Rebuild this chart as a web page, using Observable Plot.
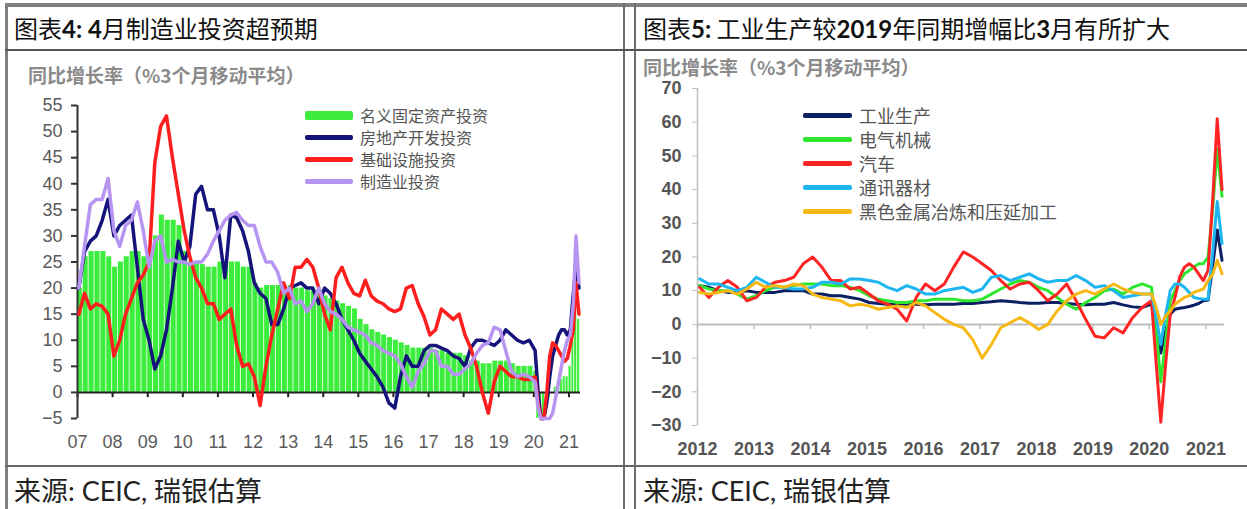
<!DOCTYPE html>
<html><head><meta charset="utf-8">
<script src="https://cdn.jsdelivr.net/npm/d3@7"></script>
<script src="https://cdn.jsdelivr.net/npm/@observablehq/plot@0.6"></script>
<style>
body{margin:0;background:#fff;}
#page{position:relative;width:1247px;height:509px;overflow:hidden;font-family:"Noto Sans CJK SC",sans-serif;background:#fff;}
.ln{position:absolute;background:#6e6e6e;}
.title{position:absolute;font-size:24px;line-height:28px;color:#111;white-space:nowrap;}
.title b{font-family:Lato,"Liberation Sans",sans-serif;font-weight:700;}
.src{position:absolute;font-size:27px;line-height:30px;color:#222;white-space:nowrap;}
.src .lat{font-family:Lato,"Liberation Sans",sans-serif;}
.ylab{position:absolute;font-size:19px;line-height:22px;color:#8a8a8a;font-weight:700;white-space:nowrap;}
.legend{position:absolute;color:#555;}
.legend .row{display:flex;align-items:center;white-space:nowrap;overflow:visible;}
.legend .sw{display:inline-block;margin-right:7px;flex:none;}
.chart{position:absolute;}
</style></head>
<body>
<div id="page">
  <div class="ln" style="left:5px;top:3px;width:1242px;height:4px;background:#808080"></div>
  <div class="ln" style="left:5px;top:3px;width:3px;height:506px;background:#808080"></div>
  <div class="ln" style="left:623px;top:3px;width:2px;height:506px"></div>
  <div class="ln" style="left:634px;top:3px;width:2px;height:506px"></div>
  <div class="ln" style="left:5px;top:49px;width:1242px;height:2px;background:#555"></div>
  <div class="ln" style="left:5px;top:465px;width:1242px;height:2px;background:#666"></div>

  <div class="title" style="left:14px;top:14px">图表<b>4: 4</b>月制造业投资超预期</div>
  <div class="title" style="left:643px;top:14px">图表<b>5:</b> 工业生产较<b>2019</b>年同期增幅比<b>3</b>月有所扩大</div>

  <div class="ylab" style="left:28px;top:64px">同比增长率（%3个月移动平均）</div>
  <div class="ylab" style="left:643px;top:56px">同比增长率（%3个月移动平均）</div>

  <div id="leftChart" class="chart" style="left:0px;top:50px"></div>
  <div id="rightChart" class="chart" style="left:636px;top:50px"></div>

  <div id="leftLegend" class="legend" style="left:305px;top:104px;font-size:16px;line-height:22px"></div>
  <div id="rightLegend" class="legend" style="left:803px;top:103px;font-size:18px;line-height:24px"></div>

  <div class="src" style="left:14px;top:475px">来源<span class="lat">: CEIC, </span>瑞银估算</div>
  <div class="src" style="left:643px;top:475px">来源<span class="lat">: CEIC, </span>瑞银估算</div>
</div>
<script>
// ---------- Left chart data (bimonthly 2007-01..2019-11, then monthly 2020-01..2021-04) ----------
const leftNames = ["名义固定资产投资", "房地产开发投资", "基础设施投资", "制造业投资"];
const leftColors = ["#3ded3d", "#14147a", "#ff1e1e", "#b894f2"];
const leftYTicks = [-5, 0, 5, 10, 15, 20, 25, 30, 35, 40, 45, 50, 55];
const leftYearLabels = ["07","08","09","10","11","12","13","14","15","16","17","18","19","20","21"];

const fixedAsset = [20, 26, 27, 27, 27, 26, 24, 25, 26, 27,
 27, 26, 26, 30, 34, 33, 33, 32, 27, 25,
 25, 24.5, 24, 24, 25, 25, 25, 25, 24, 24,
 21, 20, 20.5, 20.5, 20.5, 20, 20.5, 20, 20, 19.5,
 19.5, 19.5, 18.5, 18, 17.5, 17, 16.5, 16, 14, 13,
 12, 11.5, 11, 10.5, 10, 9.5, 9, 8.5, 8.5, 8.5,
 8.5, 8, 8, 7.5, 7.5, 7.5, 7, 6, 6, 5.5,
 5.5, 6, 6, 6, 5.5, 5, 5, 5,
 4, -5, -5, -5, -3, -1, 0, 1, 2, 2.5, 3, 3, 5, 10, 18, 14];

const realEstate = [20, 27, 29, 30, 33, 37, 30, 32, 33, 34,
 24, 14, 10, 4.5, 7, 12, 20, 29, 25, 28,
 38, 39.5, 35, 35, 30, 22, 34, 33.5, 31, 27,
 21, 19, 18, 13, 13, 16, 20, 20.5, 21, 20,
 20, 17, 20, 19, 17, 14, 12, 10, 7.5, 6,
 4.5, 3, 1, -2, -3, 3, 7, 5, 5, 8,
 9, 9, 8.5, 8, 7, 6.5, 5, 8.5, 10, 10,
 9.5, 9, 10, 12, 11, 10, 9.5, 10,
 8, 0, -5, -5, -2, 3, 7, 9, 11, 12, 12, 11, 12, 19, 24, 20];

const infrastructure = [15, 19, 16, 17, 16.5, 15, 7, 10, 15, 18,
 21, 22.5, 25, 44, 51, 53, 45, 38, 31, 26,
 22, 20, 17, 17, 14, 15, 16, 9, 5, 5.5,
 3, -2.5, 5, 11, 16, 21, 18, 24, 24, 25.5,
 24, 20, 15, 12, 22, 24, 21, 19, 18.5, 21.5,
 18.5, 17.5, 17, 16, 15.5, 16, 20, 20.5, 17, 14.5,
 11, 12, 16, 15, 14, 15, 11, 8.5, 5, 0,
 -4, 2, 5, 4, 3, 3, 2.5, 2.5,
 3, -2, -5, -5, 0, 7, 9.5, 9, 8, 7, 6, 6.5, 9, 12, 21, 15];

const manufacturing = [20, 28, 36, 37, 37, 41, 31, 28, 32, 33,
 36.5, 31, 24, 29, 30, 25, 25.5, 25, 25, 24.5,
 25, 25, 26.5, 29, 31, 33, 34, 34.5, 33, 32,
 32, 28, 25, 25, 23, 19, 20, 17, 17.5, 15.5,
 17, 20, 17, 15.5, 15, 14, 12.5, 12, 11.5, 11,
 9.5, 9, 8, 7.5, 7, 5.5, 3, 1, 4, 5.5,
 8, 8, 5, 5, 3.5, 3.5, 4.5, 5.5, 7.5, 9,
 9.5, 12.5, 12, 8, 4, 3, 3.5, 3,
 2, -3, -5, -5, -5, -5, -4, -1, 2, 5, 8, 10, 11, 17, 30, 21];

// ---------- Right chart data (bimonthly 2012-01..2019-11, then monthly 2020-01..2021-04) ----------
const rightNames = ["工业生产", "电气机械", "汽车", "通讯器材", "黑色金属冶炼和压延加工"];
const rightColors = ["#0b1f63", "#2ee62e", "#ff2424", "#1db6f0", "#f8b814"];
const rightYTicks = [-30, -20, -10, 0, 10, 20, 30, 40, 50, 60, 70];
const rightYearLabels = ["2012","2013","2014","2015","2016","2017","2018","2019","2020","2021"];

const industry = [11.5, 11, 10, 9.5, 9.5, 10, 9.5, 9.5, 9.5, 10,
 10, 10, 9, 9, 8.5, 8.5, 8, 7.5, 6.5, 6.2,
 6, 6, 6, 6, 5.8, 6, 6, 6, 6.2, 6.2,
 6.5, 6.7, 7, 6.8, 6.5, 6.3, 6.3, 6.5, 6.5, 6.2,
 6, 5.8, 6, 6, 6.5, 5.8, 5.2, 5,
 6, -2, -8.5, -2, 3, 4.5, 4.8, 5, 5.3, 5.7, 6.2, 7, 7.2, 18, 28, 19];

const electrical = [11.5, 10.5, 10, 10, 9, 7.5, 8.5, 10, 11, 11,
 11.5, 12, 12, 12, 11.5, 11.5, 11, 10, 8.5, 7.5,
 7, 6.5, 6.5, 7, 7, 7.5, 7.5, 7.5, 7, 7,
 7.5, 9, 10.5, 12, 13, 12.5, 11, 10, 8, 6,
 4.5, 6.5, 8, 10, 10.5, 9, 11, 12,
 11, -2, -17, -5, 7, 10, 13, 15, 16, 17, 18, 18, 20, 35, 52, 38];

const autos = [11, 8, 11, 13, 11, 7, 8, 11, 12.5, 13,
 14, 18, 20, 17, 13, 13, 10.5, 11, 9, 7,
 6, 4.5, 1, 8, 12, 10, 12, 17, 21.5, 20,
 18, 16, 13, 10.5, 12, 12.5, 10, 7, 9, 12,
 7, 1.5, -3.5, -4, -1, -2.5, 2, 5,
 7, -12, -29, -12, 3, 8, 14, 17, 18, 17, 15, 13, 16, 38, 61, 40];

const telecom = [13.5, 12, 12, 11, 10, 11, 14, 12.5, 11, 11,
 10.5, 10.5, 11, 12.5, 12.5, 12, 13.5, 13.5, 13, 12.5,
 11, 10, 11.5, 10.5, 9, 9, 10, 10.5, 11, 9.5,
 10.5, 14, 14.5, 13, 14, 15, 13.5, 12.5, 13, 13,
 14.5, 13, 11, 11.5, 10, 8, 8.5, 9,
 9, 2, -6, 3, 10, 12, 12, 11, 9.5, 8, 7.7, 7.5, 7.5, 22, 36.5, 24];

const ferrous = [9.5, 9, 9.5, 10, 9, 10.5, 12.5, 11, 11.5, 11,
 12, 11.5, 9, 8, 7.5, 7, 5.5, 6, 5.5, 4.5,
 5, 5.5, 5, 6.5, 5.5, 3.5, 1.5, 0, -1, -4.5,
 -10, -6, -1, 0.5, 2, 0.5, -1.5, 0, 4, 7,
 9, 10, 9, 10.5, 12, 10.5, 9.5, 9,
 9, 5, 0, 2.5, 4, 6, 7, 8, 8.5, 9.5, 10, 10.5, 13, 15, 19, 15];

// ---------- helpers ----------
function periodStarts(y0, nBi) {
  const s = [];
  for (let i = 0; i < nBi; i++) s.push(new Date(Date.UTC(y0, 2 * i, 1)));
  for (let m = 0; m < 16; m++) s.push(new Date(Date.UTC(2020, m, 1)));
  return s;
}
function buildRows(starts, series) {
  return starts.map((s, i) => {
    const end = i + 1 < starts.length ? starts[i + 1] : new Date(Date.UTC(2021, 4, 1));
    const row = {start: s, end, date: new Date(Date.UTC(s.getUTCFullYear(), s.getUTCMonth(), 15))};
    for (const k in series) row[k] = series[k][i];
    return row;
  });
}
const yearDates = labels => labels.map(l => new Date(Date.UTC(l.length === 2 ? 2000 + +l : +l, 0, 1)));

// ---------- Left chart ----------
const leftRows = buildRows(periodStarts(2007, 78), {fai: fixedAsset, re: realEstate, inf: infrastructure, mfg: manufacturing});
const leftYears = yearDates(leftYearLabels);
const leftX = [new Date(Date.UTC(2007, 0, 1)), new Date(Date.UTC(2021, 4, 1))];

const leftPlot = Plot.plot({
  width: 622, height: 416,
  marginLeft: 77, marginRight: 42, marginTop: 55, marginBottom: 48,
  x: {type: "utc", domain: leftX},
  y: {domain: [-5, 55]},
  style: {fontFamily: "'Liberation Sans', Arial, sans-serif", background: "transparent", color: "#5a5a5a"},
  marks: [
    Plot.rectY(leftRows, {x1: "start", x2: "end", y1: 0, y2: "fai", fill: leftColors[0], insetRight: 0.8}),
    Plot.ruleY([0], {stroke: "#222", strokeWidth: 2}),
    Plot.ruleX(leftYears, {y1: 0, y2: -1, stroke: "#222", strokeWidth: 2}),
    Plot.ruleX([leftX[0]], {y1: -5, y2: 55, stroke: "#333", strokeWidth: 2}),
    Plot.lineY(leftRows, {x: "date", y: "re", stroke: leftColors[1], strokeWidth: 3.5}),
    Plot.lineY(leftRows, {x: "date", y: "inf", stroke: leftColors[2], strokeWidth: 3.5}),
    Plot.lineY(leftRows, {x: "date", y: "mfg", stroke: leftColors[3], strokeWidth: 3.5}),
    Plot.axisY({ticks: leftYTicks, tickSize: 6, tickPadding: 9, fontSize: 18, stroke: "#333", strokeWidth: 2, label: null}),
    Plot.axisX({ticks: leftYears, tickFormat: (d, i) => leftYearLabels[i], tickSize: 0, tickPadding: 17, fontSize: 18, label: null})
  ]
});
document.getElementById("leftChart").appendChild(leftPlot);

// ---------- Right chart ----------
const rightRows = buildRows(periodStarts(2012, 48), {ip: industry, em: electrical, au: autos, tc: telecom, fe: ferrous});
const rightYears = yearDates(rightYearLabels);
const rightX = [new Date(Date.UTC(2012, 0, 1)), new Date(Date.UTC(2021, 4, 1))];
const rightKeys = ["ip", "em", "au", "tc", "fe"];

const rightPlot = Plot.plot({
  width: 611, height: 416,
  marginLeft: 61, marginRight: 23, marginTop: 38, marginBottom: 41,
  x: {type: "utc", domain: rightX},
  y: {domain: [-30, 70]},
  style: {fontFamily: "'Liberation Sans', Arial, sans-serif", background: "transparent", color: "#555"},
  marks: [
    Plot.ruleY([0], {stroke: "#bdbdbd", strokeWidth: 2}),
    Plot.ruleX(rightYears, {y1: 0, y2: -1.5, stroke: "#bdbdbd", strokeWidth: 1.5}),
    Plot.ruleX([rightX[0]], {y1: -30, y2: 70, stroke: "#bdbdbd", strokeWidth: 1.5}),
    ...rightKeys.map((k, i) => Plot.lineY(rightRows, {x: "date", y: k, stroke: rightColors[i], strokeWidth: 3})),
    Plot.axisY({ticks: rightYTicks, tickSize: 5, tickPadding: 11, fontSize: 18, fontWeight: "bold", stroke: "#bdbdbd", label: null}),
    Plot.axisX({ticks: rightYears, tickFormat: (d, i) => rightYearLabels[i], tickSize: 0, tickPadding: 17, fontSize: 18, fontWeight: "bold", label: null})
  ]
});
document.getElementById("rightChart").appendChild(rightPlot);

// ---------- Legends ----------
function legend(el, names, colors, rowH, swW, thick) {
  names.forEach((n, i) => {
    const r = document.createElement("div");
    r.className = "row";
    r.style.height = rowH + "px";
    r.style.lineHeight = rowH + "px";
    const s = document.createElement("span");
    s.className = "sw";
    s.style.width = swW + "px";
    s.style.height = thick[i] + "px";
    s.style.background = colors[i];
    s.style.borderRadius = "2px";
    const t = document.createElement("span");
    t.textContent = n;
    t.style.lineHeight = rowH + "px";
    r.appendChild(s);
    r.appendChild(t);
    el.appendChild(r);
  });
}
legend(document.getElementById("leftLegend"), leftNames, leftColors, 22, 48, [9, 5, 5, 5]);
legend(document.getElementById("rightLegend"), rightNames, rightColors, 24, 49, [5, 5, 5, 5, 5]);
</script>
</body></html>
